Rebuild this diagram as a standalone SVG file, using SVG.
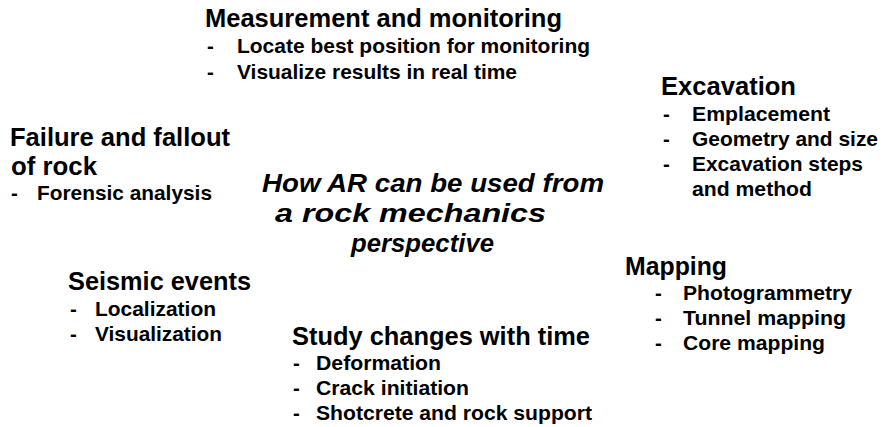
<svg xmlns="http://www.w3.org/2000/svg" width="882" height="427" viewBox="0 0 882 427">
<style>
text{font-family:"Liberation Sans",Arial,Helvetica,sans-serif;font-weight:bold;fill:#000}
.h{font-size:25px}
.b{font-size:20.5px}
.t{font-size:26.5px;font-style:italic}
</style>
<rect width="882" height="427" fill="#fff"/>
<g id="measurement">
<text class="h" x="205" y="27" textLength="357" lengthAdjust="spacingAndGlyphs">Measurement and monitoring</text>
<text class="b" x="207" y="53">-</text>
<text class="b" x="237" y="53" textLength="353" lengthAdjust="spacingAndGlyphs">Locate best position for monitoring</text>
<text class="b" x="207" y="79">-</text>
<text class="b" x="237" y="79" textLength="280" lengthAdjust="spacingAndGlyphs">Visualize results in real time</text>
</g>
<g id="failure">
<text class="h" x="10" y="146" textLength="220" lengthAdjust="spacingAndGlyphs">Failure and fallout</text>
<text class="h" x="11" y="175" textLength="86" lengthAdjust="spacingAndGlyphs">of rock</text>
<text class="b" x="11" y="200">-</text>
<text class="b" x="37" y="200" textLength="175" lengthAdjust="spacingAndGlyphs">Forensic analysis</text>
</g>
<g id="center">
<text class="t" x="262" y="192" textLength="342" lengthAdjust="spacingAndGlyphs">How AR can be used from</text>
<text class="t" x="275" y="222" textLength="271" lengthAdjust="spacingAndGlyphs">a rock mechanics</text>
<text class="t" x="351" y="252" textLength="143" lengthAdjust="spacingAndGlyphs">perspective</text>
</g>
<g id="excavation">
<text class="h" x="661" y="95" textLength="135" lengthAdjust="spacingAndGlyphs">Excavation</text>
<text class="b" x="663" y="121">-</text>
<text class="b" x="692" y="121" textLength="138" lengthAdjust="spacingAndGlyphs">Emplacement</text>
<text class="b" x="663" y="146">-</text>
<text class="b" x="692" y="146" textLength="186" lengthAdjust="spacingAndGlyphs">Geometry and size</text>
<text class="b" x="663" y="171">-</text>
<text class="b" x="692" y="171" textLength="171" lengthAdjust="spacingAndGlyphs">Excavation steps</text>
<text class="b" x="692" y="196" textLength="120" lengthAdjust="spacingAndGlyphs">and method</text>
</g>
<g id="seismic">
<text class="h" x="68" y="290" textLength="183" lengthAdjust="spacingAndGlyphs">Seismic events</text>
<text class="b" x="70" y="316">-</text>
<text class="b" x="95" y="316" textLength="121" lengthAdjust="spacingAndGlyphs">Localization</text>
<text class="b" x="70" y="341">-</text>
<text class="b" x="95" y="341" textLength="127" lengthAdjust="spacingAndGlyphs">Visualization</text>
</g>
<g id="study">
<text class="h" x="292" y="345" textLength="298" lengthAdjust="spacingAndGlyphs">Study changes with time</text>
<text class="b" x="293" y="370">-</text>
<text class="b" x="316" y="370" textLength="125" lengthAdjust="spacingAndGlyphs">Deformation</text>
<text class="b" x="293" y="395">-</text>
<text class="b" x="316" y="395" textLength="153" lengthAdjust="spacingAndGlyphs">Crack initiation</text>
<text class="b" x="293" y="420">-</text>
<text class="b" x="316" y="420" textLength="276" lengthAdjust="spacingAndGlyphs">Shotcrete and rock support</text>
</g>
<g id="mapping">
<text class="h" x="625" y="275" textLength="102" lengthAdjust="spacingAndGlyphs">Mapping</text>
<text class="b" x="655" y="300">-</text>
<text class="b" x="683" y="300" textLength="169" lengthAdjust="spacingAndGlyphs">Photogrammetry</text>
<text class="b" x="655" y="325">-</text>
<text class="b" x="683" y="325" textLength="163" lengthAdjust="spacingAndGlyphs">Tunnel mapping</text>
<text class="b" x="655" y="350">-</text>
<text class="b" x="683" y="350" textLength="142" lengthAdjust="spacingAndGlyphs">Core mapping</text>
</g>
<g id="connectors"></g>
</svg>
